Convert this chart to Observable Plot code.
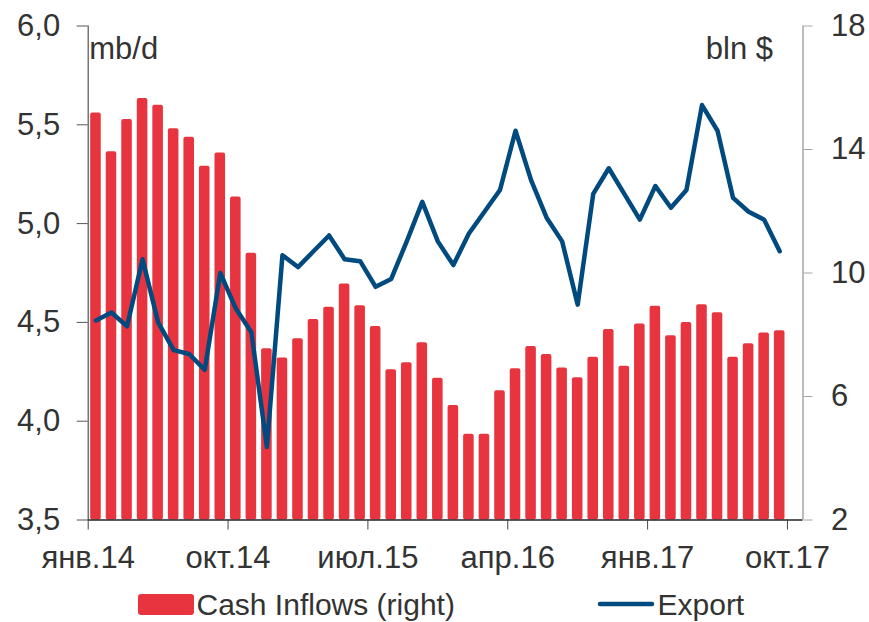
<!DOCTYPE html>
<html>
<head>
<meta charset="utf-8">
<script src="https://cdn.jsdelivr.net/npm/d3@7"></script>
<script src="https://cdn.jsdelivr.net/npm/@observablehq/plot@0.6"></script>
<style>
  html, body { margin: 0; padding: 0; background: #fff; }
  #chart { width: 869px; height: 622px; }
  svg { display: block; }
</style>
</head>
<body>
<div id="chart"></div>
<script>
// Month categories (axis spans 46 months; data covers the first 45)
const months = [
  "янв.14","фев.14","мар.14","апр.14","май.14","июн.14","июл.14","авг.14","сен.14","окт.14","ноя.14","дек.14",
  "янв.15","фев.15","мар.15","апр.15","май.15","июн.15","июл.15","авг.15","сен.15","окт.15","ноя.15","дек.15",
  "янв.16","фев.16","мар.16","апр.16","май.16","июн.16","июл.16","авг.16","сен.16","окт.16","ноя.16","дек.16",
  "янв.17","фев.17","мар.17","апр.17","май.17","июн.17","июл.17","авг.17","сен.17","окт.17"
];
const tickLabels = ["янв.14","окт.14","июл.15","апр.16","янв.17","окт.17"];

// Cash Inflows, bln $ (right axis)
const cashInflows = [
  15.18, 13.93, 14.97, 15.65, 15.43, 14.67, 14.40, 13.46, 13.89, 12.46,
  10.64, 7.55, 7.25, 7.87, 8.49, 8.89, 9.64, 8.94, 8.27, 6.87,
  7.09, 7.74, 6.59, 5.71, 4.78, 4.78, 6.19, 6.90, 7.62, 7.36,
  6.92, 6.61, 7.27, 8.17, 6.98, 8.35, 8.92, 7.97, 8.40, 8.97,
  8.71, 7.27, 7.71, 8.06, 8.13
];
// Export, mb/d (left axis)
const exportMbd = [
  4.51, 4.55, 4.48, 4.82, 4.50, 4.36, 4.34, 4.26, 4.75, 4.57,
  4.45, 3.87, 4.84, 4.78, 4.86, 4.94, 4.82, 4.81, 4.68, 4.72,
  4.91, 5.11, 4.91, 4.79, 4.95, 5.06, 5.17, 5.47, 5.22, 5.03,
  4.91, 4.59, 5.15, 5.28, 5.15, 5.02, 5.19, 5.08, 5.17, 5.60,
  5.47, 5.13, 5.06, 5.02, 4.86
];

const leftTicks = [3.5, 4.0, 4.5, 5.0, 5.5, 6.0];
const rightTicks = [2, 6, 10, 14, 18];

const L0 = 3.5, L1 = 6.0, R0 = 2, R1 = 18;
const toLeft = r => L0 + (r - R0) * (L1 - L0) / (R1 - R0);
const toRight = l => R0 + (l - L0) * (R1 - R0) / (L1 - L0);

const tickIdx = tickLabels.map(t => months.indexOf(t));

const RED = "#e8343f";
const BLUE = "#004a7f";
const FONT = "'Liberation Sans', Arial, Helvetica, sans-serif";

const plot = Plot.plot({
  width: 869,
  height: 585,
  marginLeft: 87.7,
  marginRight: 66.5,
  marginTop: 25.5,
  marginBottom: 65.5,
  style: { fontFamily: FONT, fontSize: "31px", color: "#333", background: "#fff" },
  x: { type: "linear", domain: [0, months.length], axis: null },
  y: { domain: [L0, L1], axis: null },
  marks: [
    Plot.rectY(cashInflows, {
      x1: (d, i) => i + 0.16,
      x2: (d, i) => i + 0.84,
      y1: L0,
      y2: d => toLeft(d),
      fill: RED,
      rx: 2
    }),
    Plot.ruleX([0], { stroke: "#555", strokeWidth: 1.2 }),
    Plot.ruleX([months.length], { stroke: "#a6a6a6", strokeWidth: 1.5 }),
    Plot.ruleY([L0], { stroke: "#222", strokeWidth: 1.3 }),
    Plot.line(exportMbd, {
      x: (d, i) => i + 0.5,
      y: d => d,
      stroke: BLUE,
      strokeWidth: 4.5,
      strokeLinejoin: "round",
      strokeLinecap: "round"
    }),
    Plot.axisY(leftTicks, {
      anchor: "left",
      tickSize: 11,
      tickPadding: 17,
      stroke: "#555",
      tickFormat: d => d.toFixed(1).replace(".", ","),
      label: null
    }),
    Plot.axisY(rightTicks.map(toLeft), {
      anchor: "right",
      tickSize: 9,
      tickPadding: 19,
      stroke: "#a6a6a6",
      tickFormat: d => String(Math.round(toRight(d))),
      label: null
    }),
    Plot.axisX(tickIdx, {
      anchor: "bottom",
      tickSize: 10,
      tickPadding: 16,
      stroke: "#444",
      tickFormat: d => months[d],
      label: null
    }),
    Plot.text(["mb/d"], {
      frameAnchor: "top-left",
      textAnchor: "start",
      lineAnchor: "bottom",
      dx: 1,
      dy: 32.5,
      fill: "#333"
    }),
    Plot.text(["bln $"], {
      frameAnchor: "top-right",
      textAnchor: "end",
      lineAnchor: "bottom",
      dx: -30,
      dy: 32.5,
      fill: "#333"
    })
  ]
});

const chart = document.getElementById("chart");
chart.appendChild(plot);

// Legend below the plot
const legend = d3.create("svg")
  .attr("width", 869)
  .attr("height", 37)
  .style("font-family", FONT)
  .style("font-size", "30px");
legend.append("rect")
  .attr("x", 138).attr("y", 9).attr("width", 56).attr("height", 21)
  .attr("rx", 3).attr("fill", RED);
legend.append("text")
  .attr("x", 196.5).attr("y", 29.5).attr("fill", "#333")
  .text("Cash Inflows (right)");
legend.append("line")
  .attr("x1", 600).attr("x2", 652).attr("y1", 19).attr("y2", 19)
  .attr("stroke", BLUE).attr("stroke-width", 4.5).attr("stroke-linecap", "round");
legend.append("text")
  .attr("x", 657.5).attr("y", 29.5).attr("fill", "#333")
  .text("Export");
chart.appendChild(legend.node());
</script>
</body>
</html>
